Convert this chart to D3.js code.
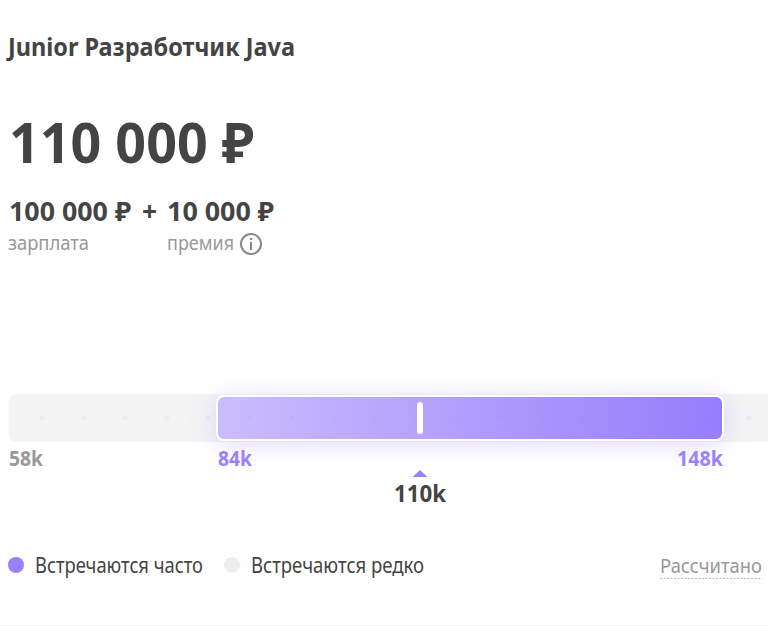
<!DOCTYPE html>
<html lang="ru">
<head>
<meta charset="utf-8">
<title>Junior Разработчик Java</title>
<script src="https://cdnjs.cloudflare.com/ajax/libs/d3/7.8.5/d3.min.js"></script>
<style>
  html, body { margin: 0; padding: 0; background: #fff; overflow: hidden; }
  svg { display: block; }
  text { font-family: "Noto Sans", "Open Sans", sans-serif; fill: #444; }
</style>
</head>
<body>
<div id="chart"></div>
<script>
// Salary range in thousands of rubles
var rangeStops = [58, 84, 110, 148];
var frequentRange = [84, 148];
var currentValue = 110;
var rangeLabels = ["58k", "84k", "110k", "148k"];
var dotSlots = [1, 2, 3, 4, 5, 6, 7, 8, 9, 10, 11, 12, 13, 14, 15, 16, 17, 18];

var titleText = "Junior Разработчик Java";
var totalText = "110 000 ₽";
var salaryText = "100 000 ₽";
var bonusText = "10 000 ₽";
var legendLabels = ["Встречаются часто", "Встречаются редко"];

var width = 768, height = 626;
var purple = "#9a82fc", grey = "#999";

var svg = d3.select("#chart").append("svg")
    .attr("width", width)
    .attr("height", height);

var defs = svg.append("defs");

var gradient = defs.append("linearGradient")
    .attr("id", "bar-fill")
    .attr("x1", "0%").attr("y1", "0%")
    .attr("x2", "100%").attr("y2", "0%");
gradient.append("stop").attr("offset", "0%").attr("stop-color", "#c9bdfd");
gradient.append("stop").attr("offset", "100%").attr("stop-color", "#967dfb");

var glow = defs.append("filter")
    .attr("id", "bar-glow")
    .attr("x", "-10%").attr("y", "-150%")
    .attr("width", "120%").attr("height", "400%");
glow.append("feDropShadow")
    .attr("dx", 0).attr("dy", 3)
    .attr("stdDeviation", 13)
    .attr("flood-color", "#9a82fc")
    .attr("flood-opacity", 0.3);

// Scales: the picture is not quite linear, so each stop gets its own position
var x = d3.scaleLinear().domain(rangeStops).range([9, 217, 420, 723]);
var slot = d3.scaleLinear().domain([1, 18]).range([42, 749]);

// Header
function label(str, px, py, size, weight, color, len) {
  return svg.append("text")
      .attr("x", px).attr("y", py)
      .attr("font-size", size)
      .attr("font-weight", weight)
      .attr("textLength", len)
      .attr("lengthAdjust", "spacingAndGlyphs")
      .style("fill", color || "#444")
      .text(str);
}

label(titleText, 8, 56, 25, 700, null, 287);
label(totalText, 9, 163, 56, 700, null, 245);
label(salaryText, 9, 221, 26, 700, null, 122);
label("+", 142, 221, 26, 700, null, 15);
label(bonusText, 167, 221, 26, 700, null, 107);
label("зарплата", 8, 250, 20, 400, grey, 81);
label("премия", 167, 250, 20, 400, grey, 67);

// Info icon
var info = svg.append("g").attr("transform", "translate(251,244)");
info.append("circle").attr("r", 10).attr("fill", "none").attr("stroke", "#888").attr("stroke-width", 2);
info.append("rect").attr("x", -1).attr("y", -2).attr("width", 2).attr("height", 8).attr("fill", "#888");
info.append("circle").attr("cy", -5).attr("r", 1.3).attr("fill", "#888");

// Track running off the right edge
svg.append("rect")
    .attr("x", x(58) - 0.5).attr("y", 394)
    .attr("width", width).attr("height", 48)
    .attr("rx", 8)
    .attr("fill", "#f4f4f4");

// Faint dots along the track, outside the frequent range
svg.append("g").selectAll("circle")
    .data(dotSlots)
  .enter().append("circle")
    .attr("cx", function(d) { return slot(d); })
    .attr("cy", 418)
    .attr("r", 2.5)
    .attr("fill", "#ececec");

// Frequent range
svg.append("rect")
    .attr("x", x(frequentRange[0])).attr("y", 396)
    .attr("width", x(frequentRange[1]) - x(frequentRange[0])).attr("height", 44)
    .attr("rx", 7)
    .attr("fill", "url(#bar-fill)")
    .attr("stroke", "#fff")
    .attr("stroke-width", 2)
    .attr("filter", "url(#bar-glow)");

// Same dots show through the purple very slightly
svg.append("g").selectAll("circle")
    .data(dotSlots.filter(function(d) { return slot(d) > x(84) && slot(d) < x(148); }))
  .enter().append("circle")
    .attr("cx", function(d) { return slot(d); })
    .attr("cy", 418)
    .attr("r", 2.5)
    .attr("fill", "#8f76f5")
    .attr("opacity", 0.05);

// Current value marker
svg.append("rect")
    .attr("x", x(currentValue) - 3).attr("y", 402)
    .attr("width", 6).attr("height", 32)
    .attr("rx", 3)
    .attr("fill", "#fff");

svg.append("path")
    .attr("d", d3.line()([[x(currentValue) - 7.5, 477], [x(currentValue), 470], [x(currentValue) + 7.5, 477]]))
    .attr("fill", purple);

// Range labels
var labelStyle = [
  { anchor: "start",  color: grey,   y: 466, size: 21, dx: 0, len: 34 },
  { anchor: "start",  color: purple, y: 466, size: 21, dx: 1, len: 34 },
  { anchor: "middle", color: "#444", y: 502, size: 23, dx: 0, len: 52 },
  { anchor: "end",    color: purple, y: 466, size: 21, dx: 0, len: 46 }
];
svg.append("g").selectAll("text")
    .data(rangeLabels)
  .enter().append("text")
    .attr("x", function(d, i) { return x(rangeStops[i]) + labelStyle[i].dx; })
    .attr("y", function(d, i) { return labelStyle[i].y; })
    .attr("text-anchor", function(d, i) { return labelStyle[i].anchor; })
    .attr("font-size", function(d, i) { return labelStyle[i].size; })
    .attr("font-weight", 700)
    .attr("textLength", function(d, i) { return labelStyle[i].len; })
    .attr("lengthAdjust", "spacingAndGlyphs")
    .style("fill", function(d, i) { return labelStyle[i].color; })
    .text(function(d) { return d; });

// Legend
var legendDots = [16, 232], legendText = [35, 251], legendWidth = [168, 173], legendFill = [purple, "#eee"];
legendLabels.forEach(function(str, i) {
  svg.append("circle").attr("cx", legendDots[i]).attr("cy", 565).attr("r", 8).attr("fill", legendFill[i]);
  label(str, legendText[i], 573, 21, 400, null, legendWidth[i]);
});

label("Рассчитано", 660, 573, 19, 400, grey, 102);
svg.append("line")
    .attr("x1", 660).attr("x2", 762)
    .attr("y1", 578.5).attr("y2", 578.5)
    .attr("stroke", "#bbb")
    .attr("stroke-dasharray", "2 1.5");

// Bottom rule
svg.append("line")
    .attr("x1", 0).attr("x2", width)
    .attr("y1", 625.5).attr("y2", 625.5)
    .attr("stroke", "#f4f4f4");
</script>
</body>
</html>
